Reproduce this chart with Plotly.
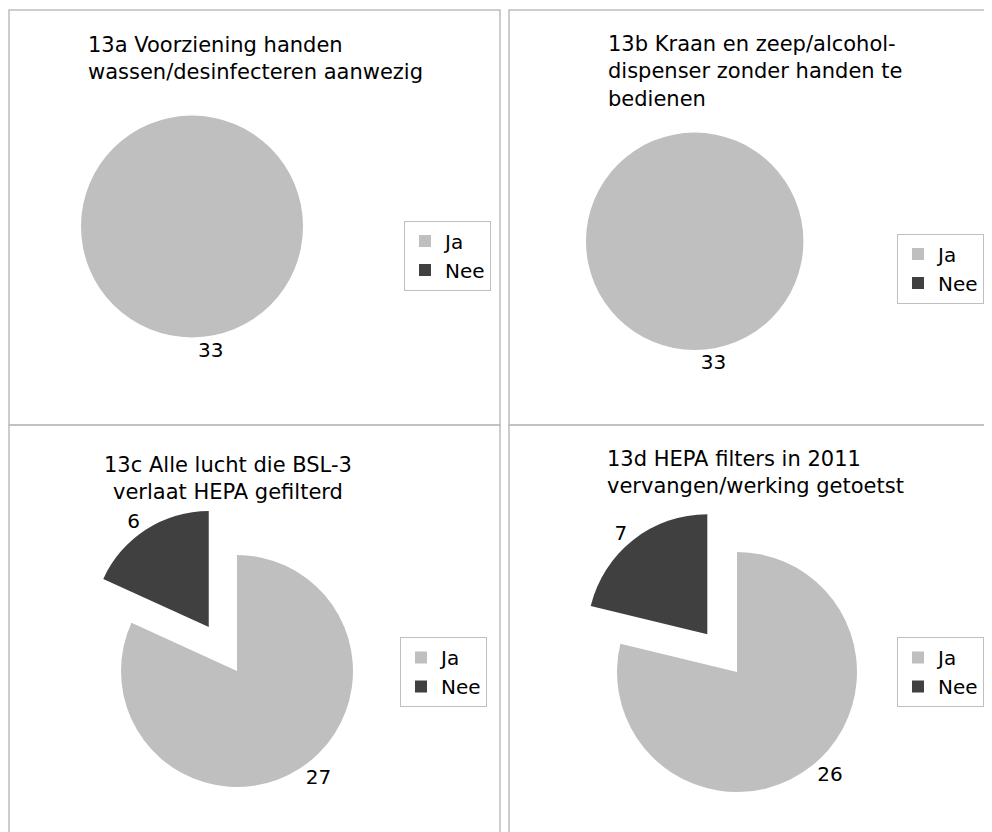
import plotly.graph_objects as go

# ---------------- data ----------------
labels = ["Ja", "Nee"]
titles = [
    "13a Voorziening handen<br>wassen/desinfecteren aanwezig",
    "13b Kraan en zeep/alcohol-<br>dispenser zonder handen te<br>bedienen",
    "13c Alle lucht die BSL-3<br>verlaat HEPA gefilterd",
    "13d HEPA filters in 2011<br>vervangen/werking getoetst",
]
values_a = [33, 0]
values_b = [33, 0]
values_c = [27, 6]
values_d = [26, 7]
all_values = [values_a, values_b, values_c, values_d]

# ---------------- style ----------------
W, H = 992, 832
OFF = 8  # page body margin: the figure starts 8px from the window corner
FONT = "DejaVu Sans"
slice_colors = ["#bfbfbf", "#404040"]
border_col = "#bdbdbd"

def fx(x):
    return (x - OFF) / W

def fy(y):
    return 1 - (y - OFF) / H

def clamp(v):
    return max(0.0, min(1.0, v))

# per panel layout (window pixel positions): pie centre, radius, pull, title, legend
panels = [
    dict(cx=192, cy=226.5, r=111, pull=0.0,
         tx=86, ty=59, talign="left", lx=404, ly=255.5),
    dict(cx=694.7, cy=241.3, r=108.7, pull=0.0,
         tx=606, ty=71, talign="left", lx=897, ly=268.5),
    dict(cx=237, cy=671, r=116, pull=0.45,
         tx=228, ty=478, talign="center", lx=400, ly=672),
    dict(cx=737, cy=672, r=120, pull=0.4,
         tx=605, ty=473, talign="left", lx=897, ly=672),
]

fig = go.Figure()
legend_ids = ["legend", "legend2", "legend3", "legend4"]

for i, (vals, p) in enumerate(zip(all_values, panels)):
    half = p["r"] * (1 + p["pull"])
    dom_x = [clamp(fx(p["cx"] - half)), clamp(fx(p["cx"] + half))]
    dom_y = [clamp(fy(p["cy"] + half)), clamp(fy(p["cy"] - half))]
    fig.add_trace(go.Pie(
        labels=labels,
        values=vals,
        text=[str(v) if v else "" for v in vals],
        textinfo="text",
        textposition="outside",
        textfont=dict(family=FONT, size=20, color="#000000"),
        marker=dict(colors=slice_colors, line=dict(width=0)),
        pull=[0, p["pull"]],
        sort=False,
        direction="clockwise",
        rotation=0,
        domain=dict(x=dom_x, y=dom_y),
        legend=legend_ids[i],
        legendgroup="g%d" % i,
        automargin=False,
        hoverinfo="label+value",
    ))

# titles
for t, p in zip(titles, panels):
    fig.add_annotation(
        text=t, x=fx(p["tx"]), y=fy(p["ty"]), xref="paper", yref="paper",
        xanchor="left" if p["talign"] == "left" else "center",
        yanchor="middle", align=p["talign"], showarrow=False,
        font=dict(family=FONT, size=21, color="#000000"),
    )

# panel borders
rects = [(9, 10, 500, 425), (509, 10, 1010, 425), (9, 425, 500, 850), (509, 425, 1010, 850)]
for x0, y0, x1, y1 in rects:
    fig.add_shape(type="rect", xref="paper", yref="paper",
                  x0=fx(x0), x1=fx(x1), y0=fy(y1), y1=fy(y0),
                  line=dict(color=border_col, width=1.5), fillcolor="rgba(0,0,0,0)",
                  layer="below")

legend_common = dict(
    xanchor="left", yanchor="middle", bordercolor="#bfbfbf", borderwidth=1,
    bgcolor="#ffffff", font=dict(family=FONT, size=20, color="#000000"),
    itemwidth=30, tracegroupgap=0, xref="paper", yref="paper",
)
layout_legends = {}
for lid, p in zip(legend_ids, panels):
    layout_legends[lid] = dict(x=fx(p["lx"]), y=fy(p["ly"]), **legend_common)

fig.update_layout(
    width=W, height=H, autosize=False,
    margin=dict(l=0, r=0, t=0, b=0, pad=0, autoexpand=False),
    paper_bgcolor="#ffffff", plot_bgcolor="#ffffff",
    font=dict(family=FONT, size=20, color="#000000"),
    showlegend=True,
    **layout_legends,
)

fig.write_html("out.html")
